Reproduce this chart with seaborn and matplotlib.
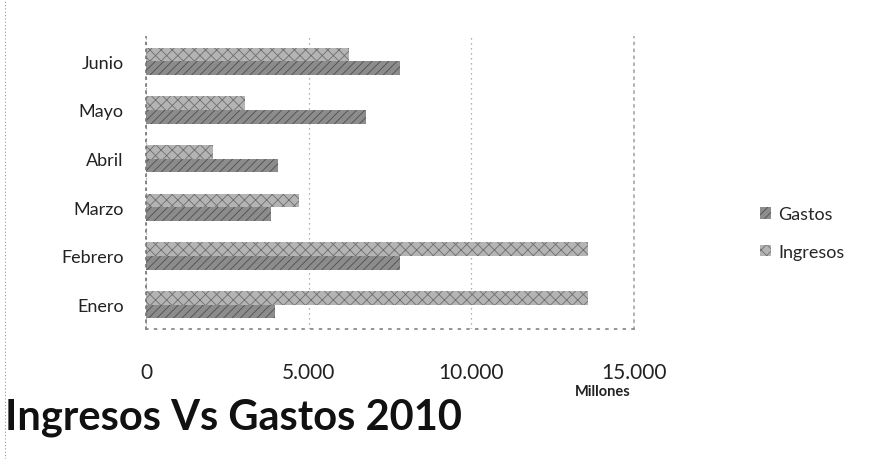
import matplotlib
matplotlib.use("Agg")
import matplotlib.pyplot as plt
import seaborn as sns
import pandas as pd
from matplotlib.patches import Patch
from matplotlib.lines import Line2D
from matplotlib.ticker import FuncFormatter

meses = ["Enero", "Febrero", "Marzo", "Abril", "Mayo", "Junio"]
ingresos = [13600, 13600, 4700, 2050, 3050, 6250]
gastos = [3950, 7800, 3850, 4050, 6750, 7800]
x_ticks = [0, 5000, 10000, 15000]

df = pd.DataFrame({
    "Mes": meses * 2,
    "Valor": ingresos + gastos,
    "Serie": ["Ingresos"] * len(meses) + ["Gastos"] * len(meses),
})

sns.set_theme(style="white")
plt.rcParams["font.family"] = ["Lato", "DejaVu Sans"]
plt.rcParams["hatch.linewidth"] = 0.6

fig = plt.figure(figsize=(8.83, 4.60), dpi=100)
ax = fig.add_axes([146/883, 1-330/460, (634-146)/883, (330-38)/460])

colors = {"Ingresos": "#b4b4b4", "Gastos": "#8c8c8c"}
sns.barplot(data=df, y="Mes", x="Valor", hue="Serie", orient="h",
            order=meses[::-1], hue_order=["Ingresos", "Gastos"],
            palette=colors, width=0.56, ax=ax, legend=False,
            linewidth=0, saturation=1)

hatches = {"Ingresos": "xxx", "Gastos": "////"}
for cont, name in zip(ax.containers, ["Ingresos", "Gastos"]):
    for b in cont:
        b.set_hatch(hatches[name])
        b.set_edgecolor("#6e6e6e" if name == "Ingresos" else "#4e4e4e")
        b.set_linewidth(0)

ax.set_xlim(0, 15000)
ax.set_xticks(x_ticks)
ax.xaxis.set_major_formatter(FuncFormatter(lambda v, p: f"{int(v):,}".replace(",", ".")))
ax.grid(axis="x", linestyle=(0, (1, 3)), color="#999999", linewidth=0.9)
ax.set_axisbelow(True)
for s in ["top"]:
    ax.spines[s].set_visible(False)
ax.spines["right"].set_linestyle((0, (1, 3)))
ax.spines["right"].set_color("#aaaaaa")
ax.spines["left"].set_linestyle((0, (1, 3)))
ax.spines["left"].set_color("#777777")
ax.spines["bottom"].set_linestyle((0, (1, 4)))
ax.spines["bottom"].set_color("#888888")
ax.set_xlabel("")
ax.set_ylabel("")
ax.tick_params(axis="x", labelsize=15, pad=24, length=0, colors="#222222")
ax.tick_params(axis="y", labelsize=13, pad=16, length=0, colors="#222222")

handles = [Patch(facecolor=colors["Gastos"], hatch="////", edgecolor="#4e4e4e", linewidth=0),
           Patch(facecolor=colors["Ingresos"], hatch="xxx", edgecolor="#6e6e6e", linewidth=0)]
fig.legend(handles, ["Gastos", "Ingresos"], loc="center left",
           bbox_to_anchor=(744/883, 1-234/460), frameon=False, fontsize=13,
           handlelength=0.6, handleheight=0.6, handletextpad=0.4, labelspacing=1.2)

fig.text(5/883, 1-430/460, "Ingresos Vs Gastos 2010", fontsize=30, fontweight="bold",
         color="#111111", ha="left", va="baseline")
fig.text(603/883, 1-392/460, "Millones", fontsize=10.5, fontweight="bold",
         color="#222222", ha="center", va="center")
fig.add_artist(Line2D([5/883, 5/883], [0.0, 1.0], transform=fig.transFigure,
                      linestyle=(0, (1, 2)), color="#999999", linewidth=0.8))

fig.savefig("out.png", dpi=100, facecolor="white")
